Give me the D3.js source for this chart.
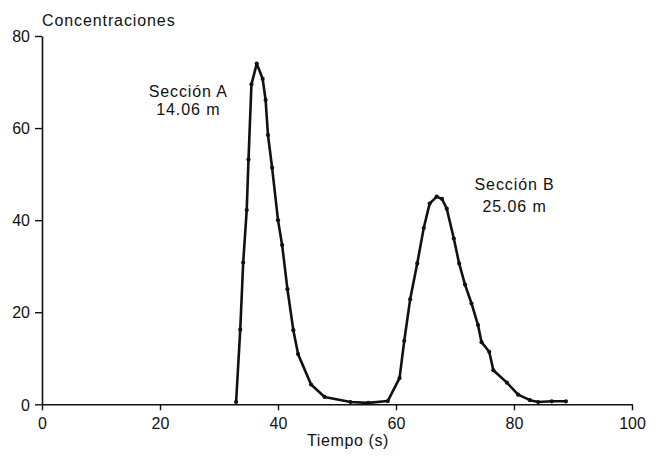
<!DOCTYPE html>
<html>
<head>
<meta charset="utf-8">
<script src="https://cdn.jsdelivr.net/npm/d3@7"></script>
<style>
  html, body { margin: 0; padding: 0; background: #fff; }
  svg { display: block; }
  text { font-family: "Liberation Sans", Arial, Helvetica, sans-serif; fill: #111; }
</style>
</head>
<body>
<svg id="chart" width="656" height="461"></svg>
<script>
// ---- data ----
const tiempo = [32.9, 33.6, 34.1, 34.7, 35.0, 35.5, 36.4, 37.4, 37.9, 38.3, 39.0, 40.0, 40.7, 41.6, 42.6, 43.4, 45.6, 47.9, 52.3, 55.3, 58.6,
                60.6, 61.4, 62.4, 63.6, 64.7, 65.7, 66.9, 67.8, 68.6, 69.8, 70.7, 71.7, 72.8, 73.9, 74.5, 75.8, 76.5, 78.8, 80.7, 82.7, 84.1, 86.4, 88.8];
const concentracion = [0.5, 16.2, 30.8, 42.2, 53.2, 69.5, 74.0, 70.7, 66.1, 58.5, 51.4, 40.0, 34.6, 25.0, 16.1, 10.9, 4.3, 1.6, 0.5, 0.3, 0.7,
                5.7, 13.8, 22.8, 30.6, 38.3, 43.6, 45.1, 44.6, 42.5, 36.0, 30.6, 26.0, 21.9, 17.2, 13.5, 11.4, 7.4, 4.7, 2.1, 0.9, 0.5, 0.65, 0.65];
const xTicks = [0, 20, 40, 60, 80, 100];
const yTicks = [0, 20, 40, 60, 80];
const yTitle = "Concentraciones";
const xTitle = "Tiempo (s)";
const etiquetas = [
  { lineas: ["Sección A", "14.06 m"], t: 24.8, c: 66.8, salto: 18 },
  { lineas: ["Sección B", "25.06 m"], t: 80.1, c: 46.5, salto: 22 }
];

// ---- chart ----
const svg = d3.select("#chart");
const x = d3.scaleLinear().domain([0, 100]).range([42, 632]);
const y = d3.scaleLinear().domain([0, 80]).range([404.3, 36]);

const gx = svg.append("g")
  .attr("transform", `translate(0,${y(0)})`)
  .call(d3.axisBottom(x).tickValues(xTicks).tickSize(6).tickSizeOuter(0).tickPadding(7));
const gy = svg.append("g")
  .attr("transform", `translate(${x(0)},0)`)
  .call(d3.axisLeft(y).tickValues(yTicks).tickSize(7).tickSizeOuter(0).tickPadding(5));

[gx, gy].forEach(g => {
  g.selectAll("path.domain").attr("stroke", "#111").attr("stroke-width", 1.6);
  g.selectAll(".tick line").attr("stroke", "#111").attr("stroke-width", 1.4);
  g.selectAll(".tick text").attr("font-size", 16).attr("fill", "#111")
    .style("font-family", '"Liberation Sans", Arial, sans-serif');
});
gy.selectAll(".tick text").attr("dy", "0.36em");
gx.selectAll(".tick text").attr("dy", "0.72em");

const datos = tiempo.map((t, i) => ({ t, c: concentracion[i] }));
const linea = d3.line().x(d => x(d.t)).y(d => y(d.c));
svg.append("path")
  .datum(datos)
  .attr("d", linea)
  .attr("fill", "none")
  .attr("stroke", "#111")
  .attr("stroke-width", 2.6)
  .attr("stroke-linejoin", "round");

svg.append("g").selectAll("circle")
  .data(datos)
  .join("circle")
  .attr("cx", d => x(d.t))
  .attr("cy", d => y(d.c))
  .attr("r", 2.1)
  .attr("fill", "#111");

svg.append("text")
  .attr("x", 42).attr("y", 26)
  .attr("font-size", 16)
  .attr("letter-spacing", "0.9px")
  .text(yTitle);

svg.append("text")
  .attr("x", 348).attr("y", 446)
  .attr("text-anchor", "middle")
  .attr("font-size", 16)
  .attr("letter-spacing", "0.6px")
  .text(xTitle);

etiquetas.forEach(e => {
  e.lineas.forEach((l, i) => {
    svg.append("text")
      .attr("x", x(e.t))
      .attr("y", y(e.c) + i * e.salto)
      .attr("text-anchor", "middle")
      .attr("font-size", 16)
      .attr("letter-spacing", "0.9px")
      .text(l);
  });
});
</script>
</body>
</html>
